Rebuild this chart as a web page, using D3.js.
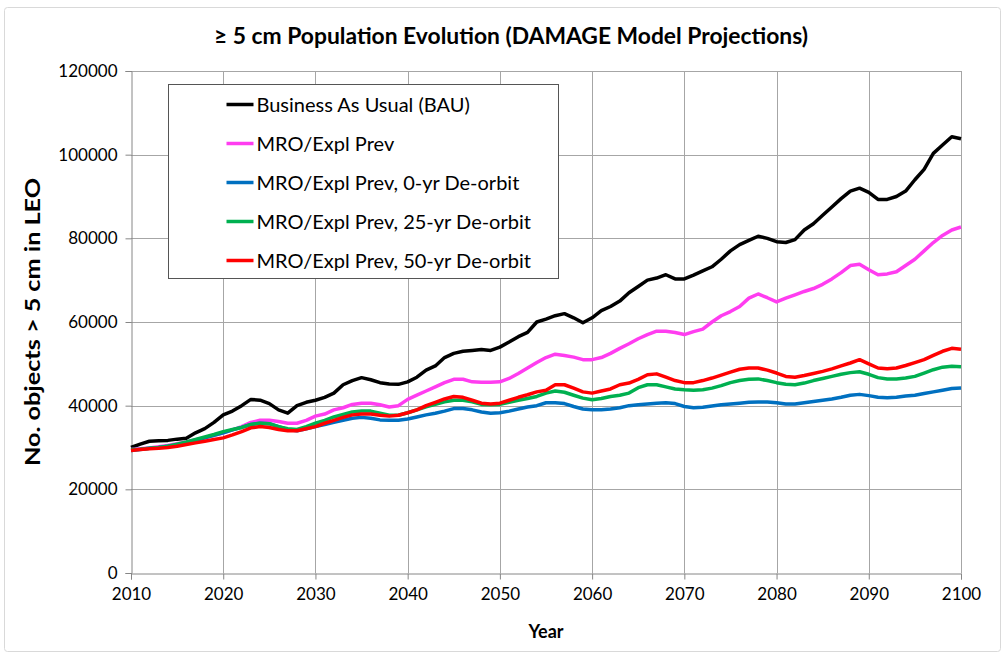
<!DOCTYPE html>
<html>
<head>
<meta charset="utf-8">
<script src="https://cdn.jsdelivr.net/npm/d3@7"></script>
<style>
  body { margin: 0; background: #fff; }
  svg { font-family: Lato, "Open Sans", sans-serif; }
</style>
</head>
<body>
<div id="chart"></div>
<script>
// yearly values, 2010..2100
var years = d3.range(2010, 2101);

var bau = [30000,30800,31500,31600,31700,32000,32200,33500,34500,36000,
  37800,38700,40000,41500,41300,40500,39000,38200,40000,40800,
  41300,42000,43000,45000,46000,46700,46200,45500,45200,45100,
  45700,46800,48500,49500,51500,52500,53000,53200,53400,53200,
  54000,55200,56500,57500,60000,60700,61500,62000,61000,59800,
  61000,62700,63700,65000,67000,68500,70000,70500,71300,70300,
  70300,71200,72200,73200,75000,77000,78500,79500,80500,80000,
  79200,79000,79700,82000,83500,85500,87500,89500,91300,92000,
  91000,89300,89300,90000,91300,94000,96500,100300,102300,104300,103800];

var mro = [29500,29700,29900,30200,30500,30900,31300,31800,32300,32900,
  33500,34200,35000,36000,36500,36500,36200,35800,35800,36500,
  37500,38000,39000,39500,40300,40600,40600,40200,39700,40000,
  41500,42500,43500,44500,45500,46300,46300,45700,45600,45600,
  45700,46500,47700,49000,50300,51500,52300,52000,51600,51000,
  51000,51500,52500,53700,54800,56000,57000,57800,57800,57500,
  57000,57700,58300,60000,61500,62500,63700,65700,66700,65800,
  64800,65700,66500,67300,68000,69000,70300,71800,73500,73800,
  72500,71300,71500,72000,73500,75000,77000,79000,80700,82000,82700];

var deorbit0 = [29300,29500,29800,30000,30300,30600,31000,31600,32300,32900,
  33500,34200,34800,35500,35800,35700,35000,34300,34000,34500,
  35000,35500,36000,36500,37000,37200,37000,36600,36500,36500,
  36800,37300,37800,38200,38700,39300,39300,39000,38500,38200,
  38300,38700,39200,39700,40000,40700,40700,40500,39800,39200,
  39000,39000,39200,39500,40000,40200,40400,40600,40700,40500,
  39800,39500,39600,39900,40200,40400,40600,40800,40900,40900,
  40700,40400,40400,40700,41000,41300,41600,42000,42500,42700,
  42400,42000,41900,42000,42300,42500,42900,43300,43700,44100,44200];

var deorbit25 = [29500,29600,29800,30000,30300,30800,31300,31900,32500,33100,
  33800,34300,34800,35500,35800,35700,35000,34500,34300,35000,
  35800,36500,37300,37900,38500,38700,38700,38200,37700,37700,
  38300,39000,39700,40300,40900,41300,41300,40900,40300,40200,
  40300,40800,41300,41700,42200,43000,43500,43200,42500,41800,
  41400,41700,42200,42500,43000,44300,45000,45000,44500,44000,
  43800,43700,43800,44200,44800,45500,46000,46300,46400,46000,
  45500,45100,45000,45400,46000,46500,47000,47500,47900,48100,
  47500,46700,46400,46400,46600,47000,47800,48600,49200,49400,49300];

var deorbit50 = [29300,29500,29700,29800,30000,30300,30700,31100,31500,31900,
  32300,33000,33800,34700,35000,34800,34300,34000,34000,34500,
  35000,35800,36500,37200,37800,38000,38000,37700,37500,37700,
  38300,39000,40000,40800,41600,42200,42000,41300,40600,40400,
  40600,41300,42000,42600,43300,43700,45000,45000,44200,43300,
  43000,43500,44000,45000,45400,46300,47400,47600,46800,46000,
  45500,45500,46000,46600,47300,48000,48700,49000,49000,48500,
  47800,47000,46800,47200,47700,48200,48800,49500,50200,51000,
  50000,49000,48800,49000,49600,50300,51000,52000,53000,53700,53500];

var seriesNames = ["Business As Usual (BAU)", "MRO/Expl Prev", "MRO/Expl Prev, 0-yr De-orbit",
  "MRO/Expl Prev, 25-yr De-orbit", "MRO/Expl Prev, 50-yr De-orbit"];
var seriesValues = [bau, mro, deorbit0, deorbit25, deorbit50];
var seriesColors = ["#000000", "#ff3df0", "#0070c0", "#00b050", "#ff0000"];

var xTicks = d3.range(2010, 2101, 10);
var yTicks = d3.range(0, 120001, 20000);

var W = 1006, H = 658;
var margin = {top: 71, right: 45, bottom: 85, left: 131};

var svg = d3.select("#chart").append("svg")
    .attr("width", W)
    .attr("height", H);

// outer chart frame
svg.append("rect")
    .attr("x", 4.5).attr("y", 7.5)
    .attr("width", W - 10).attr("height", H - 14)
    .attr("rx", 3)
    .style("fill", "#fff")
    .style("stroke", "#d9d9d9");

var xScale = d3.scaleLinear().domain([2010, 2100]).range([margin.left, W - margin.right]);
var yScale = d3.scaleLinear().domain([0, 120000]).range([H - margin.bottom, margin.top]);

// gridlines
svg.append("g").selectAll("line").data(yTicks.slice(1)).join("line")
    .attr("x1", xScale.range()[0]).attr("x2", xScale.range()[1])
    .attr("y1", function(d) { return Math.round(yScale(d)) + 0.5; })
    .attr("y2", function(d) { return Math.round(yScale(d)) + 0.5; })
    .style("stroke", "#a6a6a6").style("stroke-width", 1);

svg.append("g").selectAll("line").data(xTicks.slice(1)).join("line")
    .attr("x1", function(d) { return Math.round(xScale(d)) + 0.5; })
    .attr("x2", function(d) { return Math.round(xScale(d)) + 0.5; })
    .attr("y1", yScale.range()[0]).attr("y2", yScale.range()[1])
    .style("stroke", "#a6a6a6").style("stroke-width", 1);

// axes
var xAxis = svg.append("g")
    .attr("transform", "translate(0," + (Math.round(yScale(0)) + 0.5) + ")")
    .call(d3.axisBottom(xScale).tickValues(xTicks).tickFormat(d3.format("d")).tickSizeOuter(0).tickSize(6).tickPadding(8));

var yAxis = svg.append("g")
    .attr("transform", "translate(" + (Math.round(xScale(2010)) + 0.5) + ",0)")
    .call(d3.axisLeft(yScale).tickValues(yTicks).tickFormat(d3.format("d")).tickSizeOuter(0).tickSize(6).tickPadding(8));

[xAxis, yAxis].forEach(function(ax) {
    ax.select(".domain").style("stroke", "#868686");
    ax.selectAll(".tick line").style("stroke", "#868686");
    ax.selectAll(".tick text")
        .style("font-family", "Lato, sans-serif")
        .style("font-size", "17px")
        .style("fill", "#000");
});

// lines
var line = d3.line()
    .x(function(d, i) { return xScale(years[i]); })
    .y(function(d) { return yScale(d); });

svg.append("g").selectAll("path").data(seriesValues).join("path")
    .attr("d", line)
    .style("fill", "none")
    .style("stroke", function(d, i) { return seriesColors[i]; })
    .style("stroke-width", 3.5)
    .style("stroke-linejoin", "round");

// titles
svg.append("text")
    .attr("x", 511).attr("y", 44)
    .attr("text-anchor", "middle")
    .attr("textLength", 594).attr("lengthAdjust", "spacingAndGlyphs")
    .style("font-size", "22px").style("font-weight", "bold")
    .text("\u2265 5 cm Population Evolution (DAMAGE Model Projections)");

svg.append("text")
    .attr("transform", "translate(40," + (yScale(60000)) + ") rotate(-90)")
    .attr("text-anchor", "middle")
    .attr("textLength", 288).attr("lengthAdjust", "spacingAndGlyphs")
    .style("font-size", "20px").style("font-weight", "bold")
    .text("No. objects > 5 cm in LEO");

svg.append("text")
    .attr("x", xScale(2055)).attr("y", 638)
    .attr("text-anchor", "middle")
    .style("font-size", "18px").style("font-weight", "bold")
    .text("Year");

// legend
var legend = svg.append("g").attr("transform", "translate(168.5,84.5)");
legend.append("rect")
    .attr("width", 390).attr("height", 194)
    .style("fill", "#fff").style("stroke", "#555");

var rows = legend.selectAll("g.row").data(seriesNames).join("g")
    .attr("class", "row")
    .attr("transform", function(d, i) { return "translate(0," + (20 + i * 39) + ")"; });

rows.append("line")
    .attr("x1", 58).attr("x2", 85)
    .style("stroke", function(d, i) { return seriesColors[i]; })
    .style("stroke-width", 3.5);

rows.append("text")
    .attr("x", 88).attr("dy", "0.35em")
    .style("font-size", "20px")
    .text(function(d) { return d; });
</script>
</body>
</html>
